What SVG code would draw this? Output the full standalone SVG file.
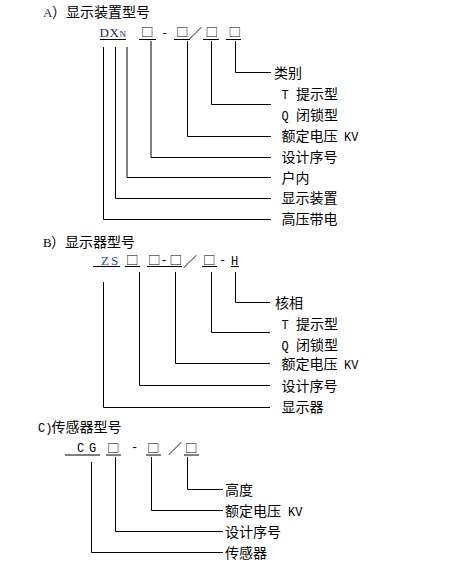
<svg xmlns="http://www.w3.org/2000/svg" width="464" height="579" viewBox="0 0 464 579">
<style>
.zh{font-family:"Noto Sans CJK SC","Noto Sans",sans-serif;font-size:14px;fill:#000}
.lat{font-family:"Liberation Mono","DejaVu Sans Mono",monospace;font-size:12px;fill:#000}
.code{font-family:"Liberation Serif","DejaVu Serif",serif;font-size:13px}
.box{font-family:"Noto Sans CJK SC","DejaVu Sans",sans-serif;font-size:12.5px;fill:#000}
.ul,.c{stroke:#000;stroke-width:1;fill:none}
</style>
<rect width="464" height="579" fill="#fff"/>

<!-- Section A -->
<g id="title-a"><text class="zh" x="43" y="17"><tspan class="code" style="fill:#1a2a6a">A</tspan><tspan x="52">）显示装置型号</tspan></text></g>
<g id="code-a">
  <text class="code" x="99.5" y="37" style="fill:#1a2a6a">D</text>
  <text class="code" x="109.5" y="37" style="fill:#1a2a6a">X</text>
  <text class="code" x="119.5" y="37" style="font-size:9px;fill:#1a2a6a">N</text>
  <text class="box" x="141" y="36.5">□</text>
  <text class="lat" x="161" y="37">-</text>
  <text class="box" x="176" y="36.5">□</text>
  <text class="zh" x="188" y="38">／</text>
  <text class="box" x="205.5" y="36.5">□</text>
  <text class="box" x="228.5" y="36.5">□</text>
  <path class="ul" d="M100 39.5H126M139 39.5H156M174 39.5H190M203 39.5H219M226 39.5H241"/>
</g>
<g id="label-a1"><text class="zh" x="274" y="78">类别</text></g>
<g id="label-a2"><text class="zh" x="281.5" y="99"><tspan class="lat">T</tspan><tspan x="296">提示型</tspan></text></g>
<g id="label-a3"><text class="zh" x="281.5" y="120"><tspan class="lat">Q</tspan><tspan x="296">闭锁型</tspan></text></g>
<g id="label-a4"><text class="zh" x="281.5" y="141">额定电压<tspan class="lat" x="344">KV</tspan></text></g>
<g id="label-a5"><text class="zh" x="281.5" y="162">设计序号</text></g>
<g id="label-a6"><text class="zh" x="281.5" y="183">户内</text></g>
<g id="label-a7"><text class="zh" x="281.5" y="203">显示装置</text></g>
<g id="label-a8"><text class="zh" x="281.5" y="224">高压带电</text></g>

<!-- Section B -->
<g id="title-b"><text class="zh" x="43" y="247"><tspan class="code">B</tspan><tspan x="51">）显示器型号</tspan></text></g>
<g id="code-b">
  <text class="code" x="101" y="265" style="fill:#2a4a9a">Z</text>
  <text class="code" x="111" y="265" style="fill:#2a4a9a">S</text>
  <text class="box" x="126" y="264.5">□</text>
  <text class="box" x="148" y="264.5">□</text>
  <text class="lat" x="160.5" y="264">-</text>
  <text class="box" x="169.5" y="264.5">□</text>
  <text class="zh" x="183" y="266">／</text>
  <text class="box" x="203" y="264.5">□</text>
  <text class="lat" x="219" y="264">-</text>
  <text class="lat" x="231" y="265">H</text>
  <path class="ul" d="M93 266.5H120M125 266.5H140M147 266.5H182M202 266.5H217M231 266.5H239"/>
</g>
<g id="label-b1"><text class="zh" x="275" y="308">核相</text></g>
<g id="label-b2"><text class="zh" x="281.5" y="329"><tspan class="lat">T</tspan><tspan x="296">提示型</tspan></text></g>
<g id="label-b3"><text class="zh" x="281.5" y="350"><tspan class="lat">Q</tspan><tspan x="296">闭锁型</tspan></text></g>
<g id="label-b4"><text class="zh" x="281.5" y="369">额定电压<tspan class="lat" x="344">KV</tspan></text></g>
<g id="label-b5"><text class="zh" x="281.5" y="391">设计序号</text></g>
<g id="label-b6"><text class="zh" x="281.5" y="412">显示器</text></g>

<!-- Section C -->
<g id="title-c"><text class="zh" x="38" y="432"><tspan class="lat">C)</tspan><tspan x="51.5">传感器型号</tspan></text></g>
<g id="code-c">
  <text class="lat" x="77" y="452">C</text>
  <text class="lat" x="89" y="452">G</text>
  <text class="box" x="107" y="452.5">□</text>
  <text class="lat" x="131" y="451">-</text>
  <text class="box" x="147" y="452.5">□</text>
  <text class="zh" x="168" y="453">／</text>
  <text class="box" x="185" y="452.5">□</text>
  <path class="ul" d="M65 455H100M106 455H121M146 455H161M184 455H199"/>
</g>
<g id="label-c1"><text class="zh" x="225" y="495">高度</text></g>
<g id="label-c2"><text class="zh" x="225" y="516">额定电压<tspan class="lat" x="288">KV</tspan></text></g>
<g id="label-c3"><text class="zh" x="225" y="537">设计序号</text></g>
<g id="label-c4"><text class="zh" x="225" y="558">传感器</text></g>

<g id="connectors">
  <path class="c" d="M235.5 41V72.5H271"/>
  <path class="c" d="M211.5 41V104.5H271"/>
  <path class="c" d="M187.5 41V136.5H271"/>
  <path class="c" d="M151 41V157.5H271"/>
  <path class="c" d="M127 47V177.5H271"/>
  <path class="c" d="M115.5 47V198.5H271"/>
  <path class="c" d="M103.5 47V219.5H271"/>

  <path class="c" d="M235.5 272V302.5H270"/>
  <path class="c" d="M211.5 272V332.5H270"/>
  <path class="c" d="M175.5 272V363.5H270"/>
  <path class="c" d="M139.5 272V385.5H270"/>
  <path class="c" d="M103.5 282V407.5H270"/>

  <path class="c" d="M187.5 457V489.5H223"/>
  <path class="c" d="M151.5 457V510.5H223"/>
  <path class="c" d="M115.5 457V531.5H223"/>
  <path class="c" d="M91.5 462V552.5H223"/>
</g>
</svg>
